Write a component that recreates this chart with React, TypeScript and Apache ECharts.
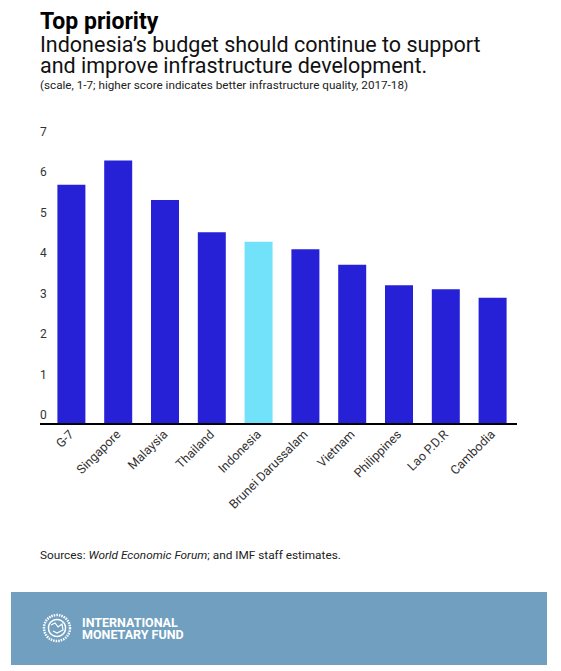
import React, { useEffect, useRef } from "react";
import * as echarts from "echarts";

const categories = [
  "G-7",
  "Singapore",
  "Malaysia",
  "Thailand",
  "Indonesia",
  "Brunei Darussalam",
  "Vietnam",
  "Philippines",
  "Lao P.D.R",
  "Cambodia",
];
const scores = [5.92, 6.52, 5.54, 4.74, 4.51, 4.32, 3.94, 3.43, 3.33, 3.12];
const highlight = "Indonesia";
const yTicks = [0, 7, 1];

const titleText = "Top priority";
const subtitleLines = [
  "Indonesia\u2019s budget should continue to support",
  "and improve infrastructure development.",
];
const noteText =
  "(scale, 1-7; higher score indicates better infrastructure quality, 2017-18)";
const sourceParts = ["Sources: ", "World Economic Forum", "; and IMF staff estimates."];
const orgLines = ["INTERNATIONAL", "MONETARY FUND"];

const BAR = "#2621d6";
const BAR_HI = "#72e2fb";
const FONT = "Roboto, 'Noto Sans', sans-serif";

export default function App() {
  const ref = useRef<HTMLDivElement>(null);
  useEffect(() => {
    if (!ref.current) return;
    const chart = echarts.init(ref.current, null, { renderer: "svg" });
    chart.setOption({
      animation: false,
      textStyle: { fontFamily: FONT },
      grid: { left: 48, right: 45, top: 141, bottom: 247 },
      xAxis: {
        type: "category",
        data: categories,
        axisLine: { show: false },
        axisTick: { show: false },
        axisLabel: {
          rotate: 45,
          fontSize: 12.5,
          color: "#333",
          margin: 8,
          interval: 0,
          fontFamily: FONT,
        },
      },
      yAxis: {
        type: "value",
        min: yTicks[0],
        max: yTicks[1],
        interval: yTicks[2],
        axisLine: { show: false },
        axisTick: { show: false },
        splitLine: { show: false },
        axisLabel: {
          align: "left",
          verticalAlign: "bottom",
          lineHeight: 18,
          margin: 8,
          fontSize: 12,
          color: "#333",
          fontFamily: FONT,
        },
      },
      series: [
        {
          type: "bar",
          barWidth: 28,
          data: categories.map((c, i) => ({
            value: scores[i],
            itemStyle: { color: c === highlight ? BAR_HI : BAR },
          })),
        },
      ],
      graphic: [
        {
          type: "line",
          shape: { x1: 40, y1: 424, x2: 517, y2: 424 },
          style: { stroke: "#000", lineWidth: 2 },
          z: 10,
        },
        {
          type: "text",
          x: 40,
          y: 21,
          style: {
            text: titleText,
            font: `bold 23px ${FONT}`,
            fill: "#000",
            verticalAlign: "middle",
          },
        },
        {
          type: "text",
          x: 40,
          y: 55,
          style: {
            text: subtitleLines.join("\n"),
            font: `21.5px ${FONT}`,
            lineHeight: 21.5,
            fill: "#111",
            verticalAlign: "middle",
          },
        },
        {
          type: "text",
          x: 40,
          y: 84.5,
          style: {
            text: noteText,
            font: `11.7px ${FONT}`,
            fill: "#222",
            verticalAlign: "middle",
          },
        },
        {
          type: "text",
          x: 40,
          y: 555,
          style: {
            text: `{n|${sourceParts[0]}}{i|${sourceParts[1]}}{n|${sourceParts[2]}}`,
            verticalAlign: "middle",
            rich: {
              n: { fontSize: 11.8, fontFamily: FONT, fill: "#222", color: "#222" },
              i: {
                fontSize: 11.8,
                fontFamily: FONT,
                fontStyle: "italic",
                fill: "#222",
                color: "#222",
              },
            },
          },
        },
        {
          type: "rect",
          shape: { x: 11, y: 592, width: 536, height: 73 },
          style: { fill: "#709fc0" },
        },
        {
          type: "circle",
          shape: { cx: 57, cy: 628, r: 13 },
          style: { fill: "none", stroke: "#fff", lineWidth: 2.5, lineDash: [1.5, 1] },
        },
        {
          type: "circle",
          shape: { cx: 57, cy: 628, r: 8.5 },
          style: { fill: "none", stroke: "#fff", lineWidth: 1.5 },
        },
        {
          type: "polyline",
          shape: { points: [[51, 625], [55, 623], [58, 627], [62, 624], [63, 630], [57, 633], [53, 631]] },
          style: { fill: "none", stroke: "#fff", lineWidth: 1.2 },
        },
        {
          type: "text",
          x: 82,
          y: 628.5,
          style: {
            text: orgLines.join("\n"),
            font: `bold 12.5px ${FONT}`,
            lineHeight: 12.5,
            fill: "#fff",
            verticalAlign: "middle",
          },
        },
      ],
    });
    return () => chart.dispose();
  }, []);
  return (
    <div
      ref={ref}
      style={{ position: "absolute", left: 0, top: 0, width: 561, height: 671, background: "#fff" }}
    />
  );
}
